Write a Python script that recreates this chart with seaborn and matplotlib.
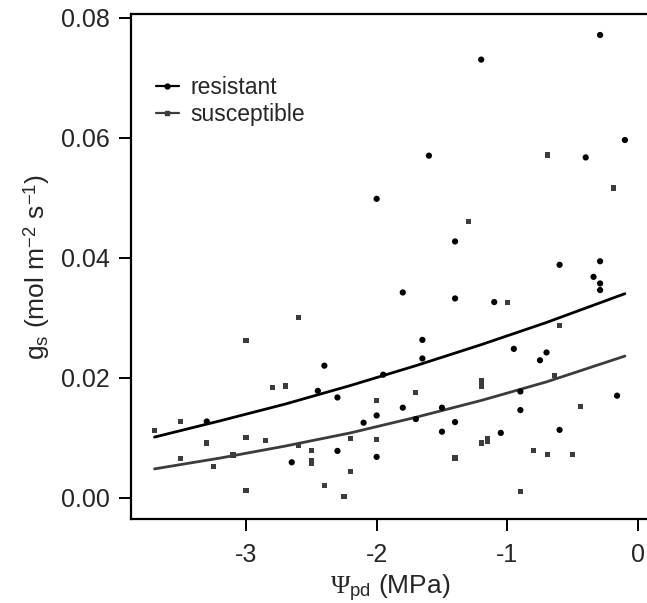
import numpy as np
import pandas as pd
import matplotlib
matplotlib.use("Agg")
import matplotlib.pyplot as plt
from matplotlib.lines import Line2D
import seaborn as sns

# ---- data ----
res_x = [-0.29, -1.20, -0.10, -1.60, -0.40, -2.00, -1.40, -0.60, -0.29, -0.34,
         -0.29, -0.29, -1.80, -1.40, -1.10, -1.65, -0.95, -0.70, -1.65, -0.75,
         -1.95, -0.90, -0.16, -1.80, -1.50, -0.90, -1.70, -1.40, -1.50, -0.60,
         -1.05, -2.40, -2.45, -2.30, -2.00, -2.10, -3.30, -2.30, -2.65, -2.00]
res_y = [0.0771, 0.0730, 0.0596, 0.0570, 0.0567, 0.0498, 0.0427, 0.0388, 0.0394, 0.0368,
         0.0357, 0.0346, 0.0342, 0.0332, 0.0326, 0.0263, 0.0248, 0.0242, 0.0232, 0.0229,
         0.0205, 0.0177, 0.0170, 0.0150, 0.0150, 0.0146, 0.0131, 0.0126, 0.0110, 0.0113,
         0.0108, 0.0220, 0.0178, 0.0167, 0.0137, 0.0125, 0.0127, 0.0078, 0.0059, 0.0068]

sus_x = [-0.69, -0.19, -1.30, -1.00, -0.60, -0.64, -1.20, -1.20, -1.70, -0.44,
         -1.20, -1.15, -1.15, -0.80, -0.69, -0.50, -1.40, -0.90, -2.60, -3.00,
         -2.80, -2.70, -2.00, -3.70, -3.50, -3.30, -3.00, -2.85, -2.60, -2.50,
         -2.50, -2.50, -2.20, -2.00, -3.50, -3.25, -3.10, -2.20, -2.40, -2.25, -3.00]
sus_y = [0.0571, 0.0516, 0.0460, 0.0325, 0.0287, 0.0203, 0.0195, 0.0186, 0.0175, 0.0152,
         0.0091, 0.0098, 0.0094, 0.0079, 0.0072, 0.0072, 0.0066, 0.0010, 0.0300, 0.0262,
         0.0184, 0.0186, 0.0162, 0.0112, 0.0127, 0.0091, 0.0100, 0.0095, 0.0087, 0.0078,
         0.0062, 0.0057, 0.0099, 0.0097, 0.0065, 0.0052, 0.0071, 0.0043, 0.0020, 0.0002, 0.0012]

fit_x = [-3.7, -3.2, -2.7, -2.2, -1.7, -1.2, -0.7, -0.1]
fit_res = [0.0101, 0.0128, 0.0156, 0.0187, 0.0220, 0.0255, 0.0292, 0.0340]
fit_sus = [0.0048, 0.0066, 0.0086, 0.0108, 0.0134, 0.0162, 0.0193, 0.0236]

x_ticks = [-3, -2, -1, 0]
y_ticks = [0.00, 0.02, 0.04, 0.06, 0.08]
groups = ["resistant", "susceptible"]

# ---- style ----
sns.set_style("white")
plt.rcParams["font.family"] = ["Liberation Sans", "DejaVu Sans"]
plt.rcParams["mathtext.fontset"] = "custom"
plt.rcParams["mathtext.rm"] = "Liberation Serif"
plt.rcParams["mathtext.sf"] = "Liberation Sans"
plt.rcParams["mathtext.it"] = "Liberation Serif:italic"

c_res = "#000000"
c_sus = "#3c3c3c"
c_txt = "#262626"

fig = plt.figure(figsize=(6.47, 6.03), dpi=100)
ax = fig.add_axes([131 / 647, 84 / 603, 519 / 647, 505 / 603])

df_res = pd.DataFrame({"x": res_x, "y": res_y, "group": groups[0]})
df_sus = pd.DataFrame({"x": sus_x, "y": sus_y, "group": groups[1]})

sns.scatterplot(data=df_res, x="x", y="y", marker="o", color=c_res, s=20,
                edgecolor="none", ax=ax, legend=False, zorder=3)
sns.scatterplot(data=df_sus, x="x", y="y", marker="s", color=c_sus, s=14,
                edgecolor="none", ax=ax, legend=False, zorder=3)

sns.lineplot(x=fit_x, y=fit_res, color=c_res, lw=2.0, ax=ax, zorder=2)
sns.lineplot(x=fit_x, y=fit_sus, color=c_sus, lw=2.0, ax=ax, zorder=2)

ax.set_xlim(-3.88, 0.092)
ax.set_ylim(-0.00355, 0.0806)
ax.set_xticks(x_ticks)
ax.set_xticklabels([str(v) for v in x_ticks])
ax.set_yticks(y_ticks)
ax.set_yticklabels([f"{v:.2f}" for v in y_ticks])

for s in ["left", "top", "bottom"]:
    ax.spines[s].set_visible(True)
    ax.spines[s].set_linewidth(1.6)
    ax.spines[s].set_color("black")
ax.spines["right"].set_visible(False)

ax.tick_params(axis="both", direction="out", length=8.5, width=1.4,
               color="black", labelsize=18, labelcolor=c_txt,
               left=True, bottom=True)
ax.tick_params(axis="x", pad=9)
ax.tick_params(axis="y", pad=7)

ax.set_xlabel(r"$\Psi_{\mathsf{pd}}$ (MPa)", fontsize=19, color=c_txt, labelpad=4)
ax.set_ylabel(r"g$_{\mathsf{s}}$ (mol m$^{\mathsf{-2}}$ s$^{\mathsf{-1}}$)",
              fontsize=19, color=c_txt, labelpad=6)

handles = [Line2D([0], [0], color=c_res, lw=1.6, marker="o", ms=3.5),
           Line2D([0], [0], color=c_sus, lw=1.6, marker="s", ms=3.0)]
ax.legend(handles=handles, labels=groups, loc="upper left",
          bbox_to_anchor=(0.03, 0.895), frameon=False, fontsize=16.5,
          handlelength=1.0, handletextpad=0.5, labelspacing=0.15,
          borderaxespad=0)

fig.savefig("out.png", dpi=100)
